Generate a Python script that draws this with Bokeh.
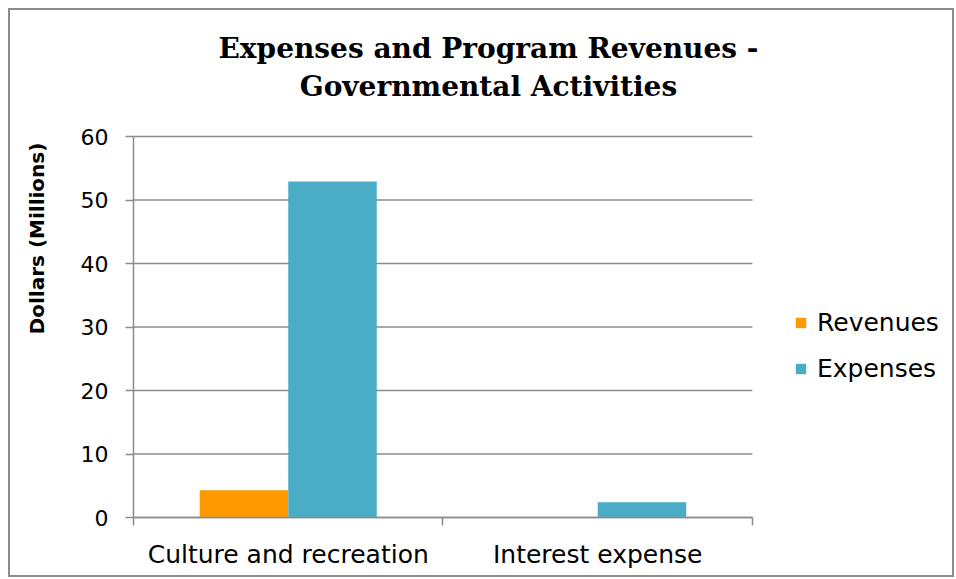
from bokeh.plotting import figure
from bokeh.models import (ColumnDataSource, FixedTicker, Legend, LegendItem, Label, Range1d)
from bokeh.transform import dodge
from bokeh.embed import file_html
from bokeh.resources import INLINE

categories = ["Culture and recreation", "Interest expense"]
revenues = [4.3, 0.0]
expenses = [52.9, 2.4]
y_ticks = [0, 10, 20, 30, 40, 50, 60]

title_lines = ["Expenses and Program Revenues -", "Governmental Activities"]
y_label = "Dollars (Millions)"

GREY = "#8c8c8c"
ORANGE = "#FF9900"
BLUE = "#4BACC6"
FONT = "DejaVu Sans"
YMAX = 60

ncat = len(categories)
pos = [i + 0.5 for i in range(ncat)]
src = ColumnDataSource(dict(x=pos, cat=categories, rev=revenues, exp=expenses))
grid_src = ColumnDataSource(dict(x0=[0] * len(y_ticks), x1=[ncat] * len(y_ticks),
                                 y=y_ticks))

# the frame covers the whole chart so that title, axis labels and legend sit in it;
# the plotting area itself spans x 0..ncat and y 0..YMAX (axes fixed at 0)
p = figure(frame_width=938, frame_height=555, output_backend="svg", toolbar_location=None,
           x_range=Range1d(-0.391, 2.640), y_range=Range1d(-9.134, 78.27),
           min_border_left=2, min_border_right=2, min_border_top=10,
           min_border_bottom=0)
p.margin = (8, 0, 0, 8)
p.styles = {"border": "2px solid #8c8c8c"}
p.outline_line_color = None
p.background_fill_color = "white"
p.border_fill_color = "white"

# horizontal grid lines limited to the plotting area
p.segment(x0="x0", x1="x1", y0="y", y1="y", source=grid_src,
          line_color=GREY, line_width=1.5)

bw = 0.286
r1 = p.vbar(x=dodge("x", -bw / 2, range=p.x_range), top="rev", width=bw, source=src,
            fill_color=ORANGE, line_color=None)
r2 = p.vbar(x=dodge("x", bw / 2, range=p.x_range), top="exp", width=bw, source=src,
            fill_color=BLUE, line_color=None)

# x axis
xa = p.xaxis[0]
xa.fixed_location = 0
xa.bounds = (0, ncat)
xa.ticker = FixedTicker(ticks=pos, minor_ticks=list(range(ncat + 1)))
xa.major_label_overrides = {pv: c for pv, c in zip(pos, categories)}
xa.major_tick_line_color = None
xa.minor_tick_line_color = GREY
xa.minor_tick_line_width = 1.5
xa.minor_tick_in = 0
xa.minor_tick_out = 8
xa.axis_line_color = GREY
xa.axis_line_width = 1.5
xa.major_label_text_font = FONT
xa.major_label_text_font_size = "25px"
xa.major_label_text_color = "black"
xa.major_label_standoff = 14

ya = p.yaxis[0]
ya.fixed_location = 0
ya.bounds = (0, YMAX)
ya.ticker = FixedTicker(ticks=y_ticks)
ya.minor_tick_line_color = None
ya.major_tick_line_color = GREY
ya.major_tick_line_width = 1.5
ya.major_tick_in = 0
ya.major_tick_out = 8
ya.axis_line_color = GREY
ya.axis_line_width = 1.5
ya.major_label_text_font = FONT
ya.major_label_text_font_size = "22px"
ya.major_label_text_color = "black"
ya.major_label_standoff = 17

p.xgrid.grid_line_color = None
p.ygrid.grid_line_color = None

# title, two centred lines
for txt, yy in zip(title_lines, [73.86, 67.87]):
    p.add_layout(Label(x=1.147, y=yy, text=txt, text_align="center",
                       text_baseline="middle", text_font="DejaVu Serif",
                       text_font_style="bold", text_font_size="28px",
                       text_color="black"))

# y label
p.add_layout(Label(x=-0.3134, y=43.94, text=y_label, angle=1.5708,
                   text_align="center", text_baseline="middle",
                   text_font=FONT, text_font_style="bold", text_font_size="20px",
                   text_color="black"))

legend = Legend(items=[LegendItem(label="Revenues", renderers=[r1]),
                       LegendItem(label="Expenses", renderers=[r2])],
                location=(782, 192))
legend.border_line_color = None
legend.background_fill_alpha = 0
legend.label_text_font = FONT
legend.label_text_font_size = "25px"
legend.label_text_color = "black"
legend.glyph_width = 13
legend.glyph_height = 13
legend.spacing = 17
legend.label_standoff = 10
legend.padding = 0
legend.margin = 0
p.add_layout(legend, "center")

open("out.html", "w").write(file_html(p, INLINE))
